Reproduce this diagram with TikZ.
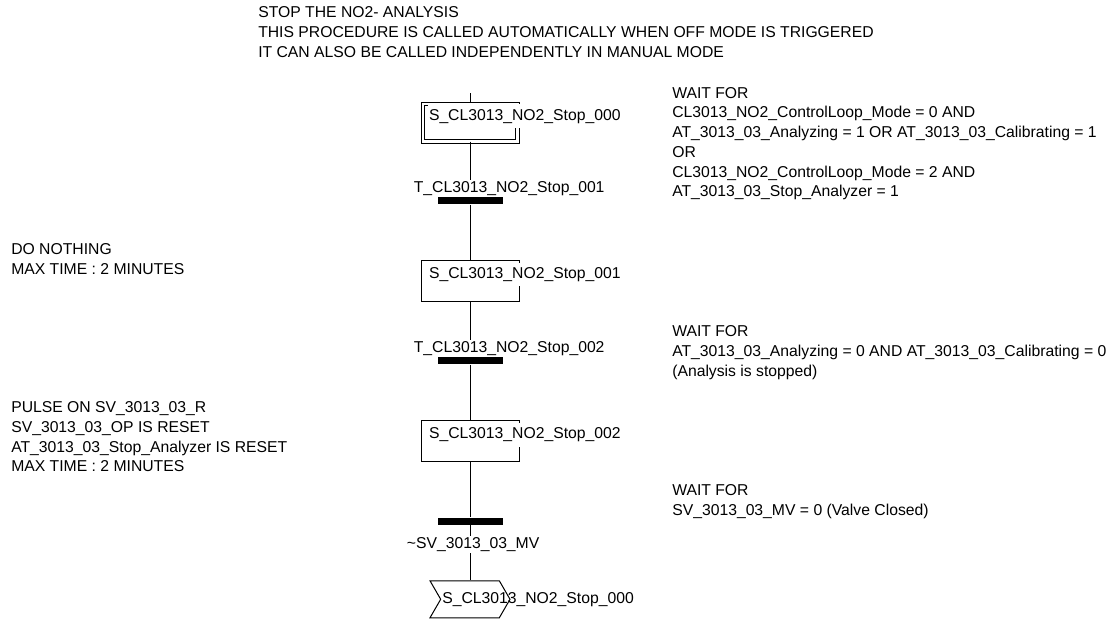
\documentclass[tikz,border=0pt]{standalone}
\usepackage{fontspec}
\setmainfont{Liberation Sans}
\usetikzlibrary{positioning,shapes.symbols}
\newcommand{\sfcfont}{\fontsize{11.8pt}{14.8pt}\selectfont}
\tikzset{
  stepbox/.style={draw, line width=0.75pt, minimum width=73.5pt, minimum height=30.75pt, inner sep=0pt},
  initstep/.style={stepbox, double, double distance=2pt, minimum width=70.75pt, minimum height=28pt},
  stepname/.style={fill=white, inner xsep=1pt, inner ysep=3.5pt},
  bar/.style={fill=black, minimum width=48.75pt, minimum height=5.25pt, inner sep=0pt},
  transname/.style={fill=white, inner sep=1pt},
  jumpbox/.style={draw, line width=0.75pt, signal, signal to=east, signal from=west, signal pointer angle=120, minimum width=60pt, minimum height=27.75pt, inner sep=0pt},
  note/.style={align=left, inner sep=0pt, anchor=north west},
  link/.style={draw, line width=0.75pt}
}

\begin{document}
\begin{tikzpicture}[x=0.75pt, y=-0.75pt, node distance=41.5pt, every node/.style={font=\sfcfont}]
  \path[use as bounding box, fill=white] (0,0) rectangle (1120,619);

  % sfc column
  \node[initstep] (s0) at (470,122.5) {};
  \coordinate[above=7.5pt of s0] (entry);
  \node[bar, below=of s0] (t1) {};
  \node[stepbox, below=of t1] (s1) {};
  \node[bar, below=of s1] (t2) {};
  \node[stepbox, below=of t2] (s2) {};
  \node[bar, below=of s2] (t3) {};
  \node[jumpbox, below=of t3] (j0) {};

  \draw[link] (entry) -- (s0);
  \draw[link] (s0) -- (t1);
  \draw[link] (t1) -- (s1);
  \draw[link] (s1) -- (t2);
  \draw[link] (t2) -- (s2);
  \draw[link] (s2) -- (t3);
  \draw[link] (t3) -- (j0);

  % step and transition names
  \node[stepname, below right=12.5pt and 3.8pt of s0.north west, anchor=base west] (s0name) {S\_CL3013\_NO2\_Stop\_000};
  \node[stepname, below right=13.9pt and 5.25pt of s1.north west, anchor=base west] (s1name) {S\_CL3013\_NO2\_Stop\_001};
  \node[stepname, below right=13.9pt and 5.25pt of s2.north west, anchor=base west] (s2name) {S\_CL3013\_NO2\_Stop\_002};
  \node[transname, above right=3.75pt and -18.75pt of t1.north west, anchor=base west] (t1name) {T\_CL3013\_NO2\_Stop\_001};
  \node[transname, above right=3.75pt and -18.75pt of t2.north west, anchor=base west] (t2name) {T\_CL3013\_NO2\_Stop\_002};
  \node[transname, below right=17.6pt and -24pt of t3.south west, anchor=base west] (t3name) {\textasciitilde SV\_3013\_03\_MV};
  \node[inner sep=0pt, anchor=west] (j0name) at ([xshift=-21pt]j0.center) {S\_CL3013\_NO2\_Stop\_000};

  % comments
  \node[note] (head) at (258,6.5) {STOP THE NO2- ANALYSIS\\THIS PROCEDURE IS CALLED AUTOMATICALLY WHEN OFF MODE IS TRIGGERED\\IT CAN ALSO BE CALLED INDEPENDENTLY IN MANUAL MODE};
  \node[note] (wait1) at (672,87) {WAIT FOR\\CL3013\_NO2\_ControlLoop\_Mode = 0 AND\\AT\_3013\_03\_Analyzing = 1 OR AT\_3013\_03\_Calibrating = 1\\OR\\CL3013\_NO2\_ControlLoop\_Mode = 2 AND\\AT\_3013\_03\_Stop\_Analyzer = 1};
  \node[note] (wait2) at (672,325.5) {WAIT FOR\\AT\_3013\_03\_Analyzing = 0 AND AT\_3013\_03\_Calibrating = 0\\(Analysis is stopped)};
  \node[note] (wait3) at (672,484.5) {WAIT FOR\\SV\_3013\_03\_MV = 0 (Valve Closed)};
  \node[note] (act1) at (11,243.5) {DO NOTHING\\MAX TIME : 2 MINUTES};
  \node[note] (act2) at (11,401.5) {PULSE ON SV\_3013\_03\_R\\SV\_3013\_03\_OP IS RESET\\AT\_3013\_03\_Stop\_Analyzer IS RESET\\MAX TIME : 2 MINUTES};
\end{tikzpicture}
\end{document}
